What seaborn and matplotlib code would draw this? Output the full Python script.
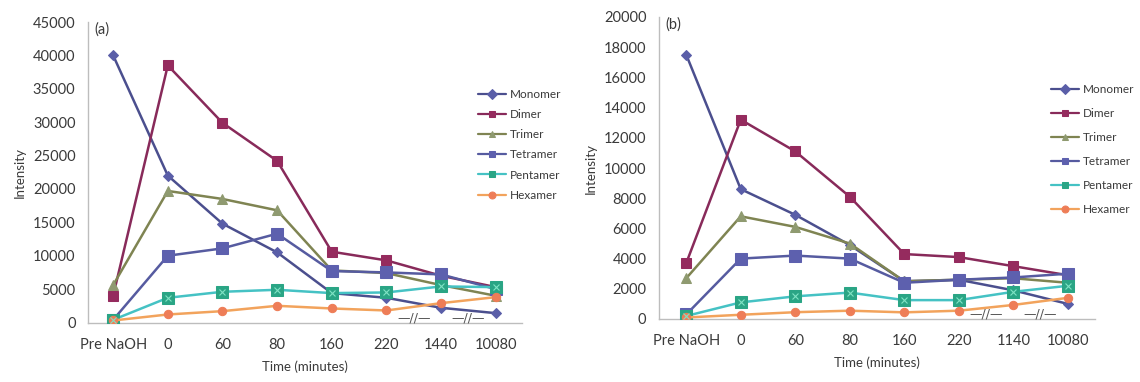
import numpy as np
import pandas as pd
import matplotlib
matplotlib.use("Agg")
import matplotlib.pyplot as plt
import matplotlib.transforms as mtransforms
import seaborn as sns

# ---------------- data ----------------
series = ["Monomer", "Dimer", "Trimer", "Tetramer", "Pentamer", "Hexamer"]

cats_a = ["Pre NaOH", "0", "60", "80", "160", "220", "1440", "10080"]
cats_b = ["Pre NaOH", "0", "60", "80", "160", "220", "1140", "10080"]

a_monomer  = [40000, 22000, 14800, 10500, 4400, 3700, 2200, 1400]
a_dimer    = [4000, 38500, 29900, 24200, 10600, 9300, 7000, 5300]
a_trimer   = [5600, 19700, 18500, 16800, 7800, 7400, 5600, 4000]
a_tetramer = [400, 10000, 11100, 13300, 7700, 7500, 7200, 5000]
a_pentamer = [400, 3700, 4600, 4900, 4400, 4500, 5400, 5300]
a_hexamer  = [300, 1200, 1700, 2500, 2100, 1800, 2900, 3800]

b_monomer  = [17500, 8600, 6900, 4900, 2500, 2600, 1900, 1000]
b_dimer    = [3700, 13200, 11100, 8100, 4300, 4100, 3500, 2900]
b_trimer   = [2700, 6800, 6100, 5000, 2500, 2600, 2700, 2400]
b_tetramer = [300, 4000, 4200, 4000, 2400, 2600, 2750, 3000]
b_pentamer = [200, 1100, 1500, 1750, 1250, 1250, 1800, 2200]
b_hexamer  = [100, 280, 450, 550, 440, 550, 930, 1400]

yticks_a = [0, 5000, 10000, 15000, 20000, 25000, 30000, 35000, 40000, 45000]
yticks_b = [0, 2000, 4000, 6000, 8000, 10000, 12000, 14000, 16000, 18000, 20000]

# ---------------- styles ----------------
line_colors = {"Monomer": "#4B4F8E", "Dimer": "#882A5A", "Trimer": "#7F8452",
               "Tetramer": "#565BA0", "Pentamer": "#45C2C4", "Hexamer": "#F2A35C"}
marker_face = {"Monomer": "#5A5EA8", "Dimer": "#952B5E", "Trimer": "#8F9A70",
               "Tetramer": "#5D60AE", "Pentamer": "#2AA585", "Hexamer": "#EE7D57"}
markers = {"Monomer": "D", "Dimer": "s", "Trimer": "^",
           "Tetramer": "s", "Pentamer": "s", "Hexamer": "o"}
msizes = {"Monomer": 5.5, "Dimer": 6.5, "Trimer": 7, "Tetramer": 9,
          "Pentamer": 8, "Hexamer": 6}

sns.set_theme(style="white")
plt.rcParams["font.family"] = ["Lato", "DejaVu Sans"]

fig = plt.figure(figsize=(11.4, 3.82), dpi=100)
ax_a = fig.add_axes([88/1140, 1-322.5/382, (522-88)/1140, 300.5/382])
ax_b = fig.add_axes([659/1140, 1-319/382, (1095-659)/1140, 302/382])

text_col = "#3A3A3A"
axis_col = "#BDBDBD"


def draw(ax, cats, data, yticks, tag, xlim, leg_anchor, lspace, ypad):
    x = np.arange(len(cats))
    for name, vals in zip(series, data):
        df = pd.DataFrame({"x": x, "y": vals})
        sns.lineplot(data=df, x="x", y="y", ax=ax, color=line_colors[name],
                     linewidth=1.8, marker=markers[name], markersize=msizes[name],
                     markerfacecolor=marker_face[name],
                     markeredgecolor=marker_face[name], label=name,
                     errorbar=None, zorder=3)
        if name == "Pentamer":
            ax.plot(x, vals, linestyle="none", marker="x", markersize=5,
                    color="#7FE3C4", markeredgewidth=0.8, zorder=4)
    ax.set_xlim(*xlim)
    ax.set_ylim(yticks[0], yticks[-1])
    ax.set_yticks(yticks)
    ax.set_yticklabels([str(t) for t in yticks])
    ax.set_xticks(x)
    ax.set_xticklabels(cats)
    ax.tick_params(axis="both", labelsize=10.5, colors=text_col, length=0)
    ax.tick_params(axis="x", pad=11)
    ax.tick_params(axis="y", pad=9)
    for s in ["top", "right"]:
        ax.spines[s].set_visible(False)
    for s in ["left", "bottom"]:
        ax.spines[s].set_color(axis_col)
        ax.spines[s].set_linewidth(1.0)
    ax.set_xlabel("Time (minutes)", fontsize=9.5, color=text_col, labelpad=6)
    ax.set_ylabel("Intensity", fontsize=9.5, color=text_col, labelpad=ypad)
    ax.text(0.015, 1.0, tag, transform=ax.transAxes, fontsize=10.5,
            color=text_col, va="top", ha="left")
    # axis break marks
    trans = mtransforms.blended_transform_factory(ax.transData, ax.transAxes)
    for xb in (5.5, 6.5):
        ax.text(xb, 0.015, "—//—", transform=trans, ha="center", va="center",
                fontsize=9, color="#555555", family="DejaVu Sans", zorder=5)
    leg = ax.legend(loc="upper left", bbox_to_anchor=leg_anchor,
                    bbox_transform=fig.transFigure, frameon=False,
                    fontsize=8.5, labelspacing=lspace, handlelength=2.4,
                    handletextpad=0.3, borderaxespad=0)
    for t in leg.get_texts():
        t.set_color(text_col)
    for h in leg.legend_handles:
        h.set_markersize(5)
        h.set_linewidth(1.6)


draw(ax_a, cats_a,
     [a_monomer, a_dimer, a_trimer, a_tetramer, a_pentamer, a_hexamer],
     yticks_a, "(a)", (-0.46, 7.48), (473/1140, 1-84/382), 0.78, 5)
draw(ax_b, cats_b,
     [b_monomer, b_dimer, b_trimer, b_tetramer, b_pentamer, b_hexamer],
     yticks_b, "(b)", (-0.5, 7.5), (1046/1140, 1-79/382), 1.1, 5)

fig.savefig("out.png", dpi=100)
